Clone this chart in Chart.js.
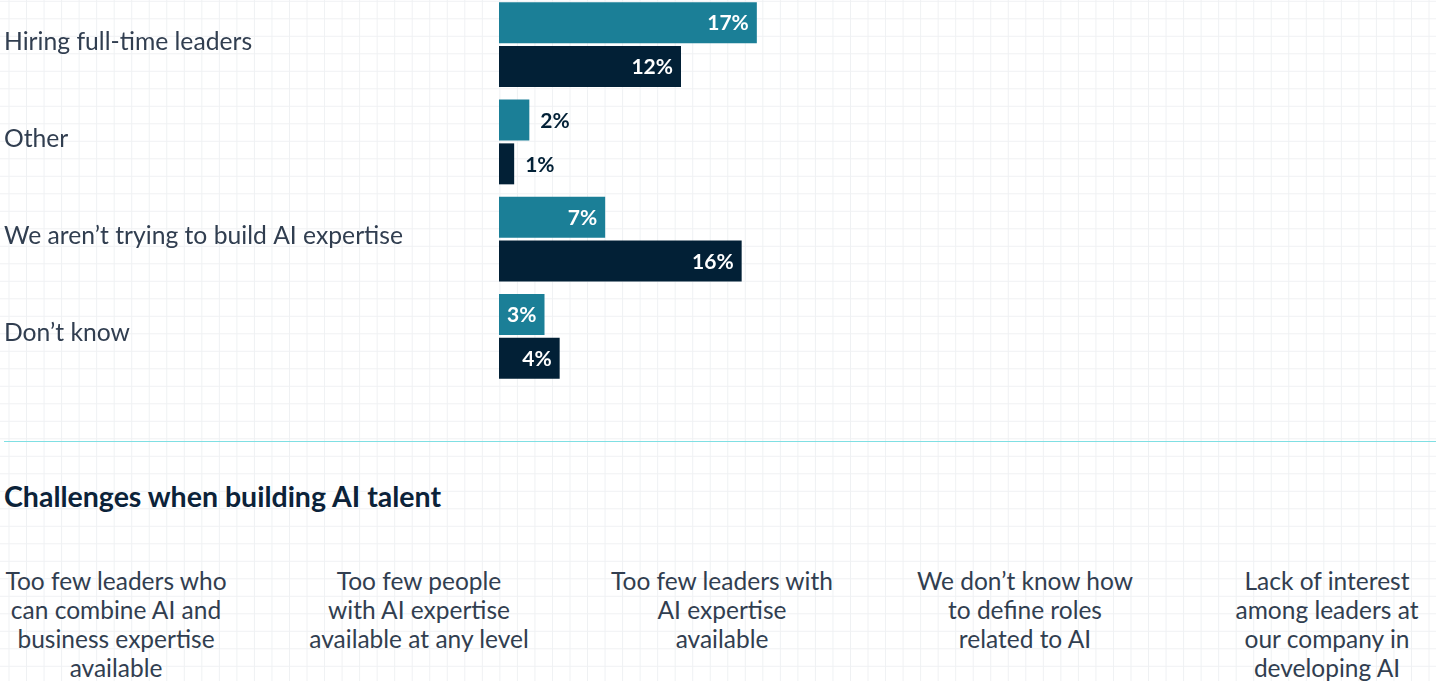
<!DOCTYPE html>
<html>
<head>
<meta charset="utf-8">
<script src="https://cdn.jsdelivr.net/npm/chart.js@4.4.0/dist/chart.umd.min.js"></script>
<style>
  html, body {
    margin: 0;
    padding: 0;
  }
  body {
    width: 1436px;
    height: 681px;
    overflow: hidden;
    position: relative;
    background-color: #ffffff;
    background-image:
      linear-gradient(to right, #eff1f3 1px, transparent 1px),
      linear-gradient(to bottom, #eff1f3 1px, transparent 1px);
    background-size: 17.54px 17.5px;
    background-position: 8.5px 0.8px;
    font-family: Lato, "Open Sans", sans-serif;
  }
  #chartBox {
    position: absolute;
    left: 0;
    top: -4px;
    width: 1436px;
    height: 389px;
  }
  .divider {
    position: absolute;
    left: 4px;
    right: 0;
    top: 440.5px;
    height: 1.5px;
    background: #7fdfe3;
  }
  h2 {
    position: absolute;
    left: 4px;
    top: 480px;
    margin: 0;
    font-size: 28.5px;
    font-weight: 700;
    color: #0b2239;
    line-height: 32px;
  }
  .col {
    position: absolute;
    top: 566px;
    width: 300px;
    margin-left: -150px;
    text-align: center;
    font-size: 24.5px;
    line-height: 29px;
    color: #313e50;
  }
</style>
</head>
<body>
<div id="chartBox"><canvas id="talentChart"></canvas></div>
<div class="divider"></div>
<h2>Challenges when building AI talent</h2>
<div class="col" style="left:116px">Too few leaders who<br>can combine AI and<br>business expertise<br>available</div>
<div class="col" style="left:419px">Too few people<br>with AI expertise<br>available at any level</div>
<div class="col" style="left:722px">Too few leaders with<br>AI expertise<br>available</div>
<div class="col" style="left:1025px">We don’t know how<br>to define roles<br>related to AI</div>
<div class="col" style="left:1327px">Lack of interest<br>among leaders at<br>our company in<br>developing AI</div>

<script>
const categories = ['Hiring full-time leaders', 'Other', 'We aren’t trying to build AI expertise', 'Don’t know'];
const seriesA = [17, 2, 7, 3];
const seriesB = [12, 1, 16, 4];

const teal = '#1b7f97';
const navy = '#022036';

// percent labels: inside the bar when it fits, otherwise just after it
const valueLabels = {
    id: 'valueLabels',
    afterDatasetsDraw(chart) {
        const ctx = chart.ctx;
        ctx.save();
        ctx.font = 'bold 21px Lato, sans-serif';
        ctx.textBaseline = 'middle';
        chart.data.datasets.forEach((ds, i) => {
            const meta = chart.getDatasetMeta(i);
            meta.data.forEach((bar, j) => {
                const text = ds.data[j] + '%';
                const w = ctx.measureText(text).width;
                const len = bar.x - bar.base;
                if (len >= w + 12) {
                    ctx.fillStyle = '#ffffff';
                    ctx.textAlign = 'right';
                    ctx.fillText(text, bar.x - 8, bar.y + 1);
                } else {
                    ctx.fillStyle = navy;
                    ctx.textAlign = 'left';
                    ctx.fillText(text, bar.x + 11, bar.y + 1);
                }
            });
        });
        ctx.restore();
    }
};

new Chart(document.getElementById('talentChart'), {
    type: 'bar',
    data: {
        labels: categories,
        datasets: [{
            label: 'Series A',
            data: seriesA,
            backgroundColor: teal,
            categoryPercentage: 0.904,
            barPercentage: 0.932
        }, {
            label: 'Series B',
            data: seriesB,
            backgroundColor: navy,
            categoryPercentage: 0.904,
            barPercentage: 0.932
        }]
    },
    options: {
        indexAxis: 'y',
        responsive: true,
        maintainAspectRatio: false,
        animation: false,
        layout: {
            padding: { left: 4, right: 27, top: 0, bottom: 0 }
        },
        plugins: {
            legend: { display: false },
            tooltip: { enabled: false }
        },
        scales: {
            x: {
                display: false,
                min: 0,
                max: 60
            },
            y: {
                grid: { display: false },
                border: { display: false },
                ticks: {
                    crossAlign: 'far',
                    labelOffset: -3,
                    color: '#313e50',
                    font: { family: 'Lato', size: 24.7 }
                },
                afterFit(scale) {
                    scale.width = 495;
                    scale.paddingTop = 0;
                    scale.paddingBottom = 0;
                }
            }
        }
    },
    plugins: [valueLabels]
});
</script>
</body>
</html>
